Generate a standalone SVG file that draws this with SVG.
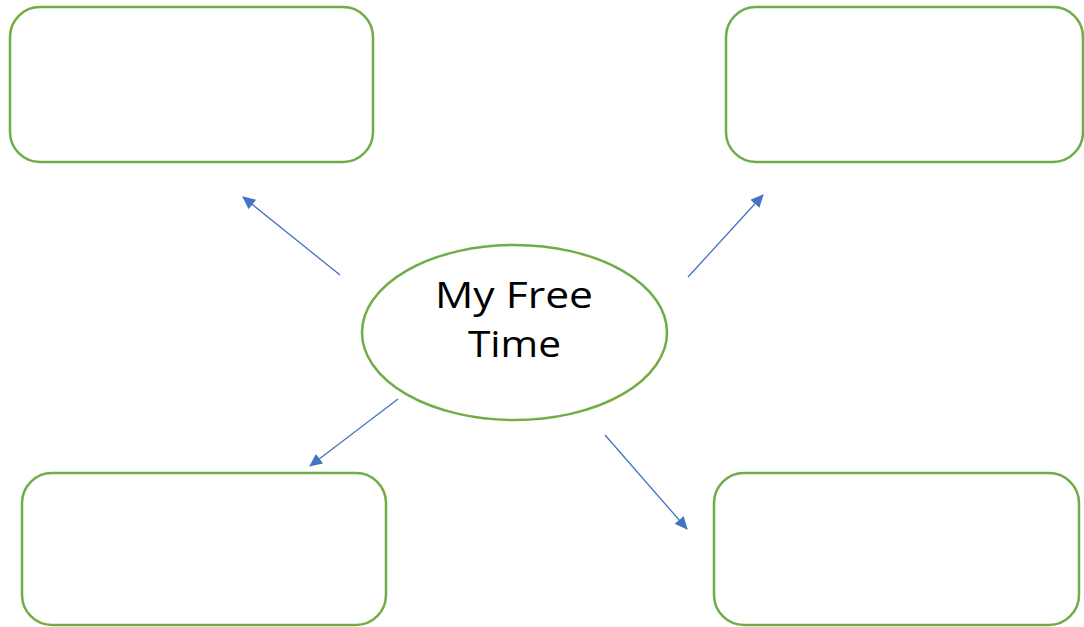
<svg xmlns="http://www.w3.org/2000/svg" width="1084" height="627" viewBox="0 0 1084 627">
<style>
.box{fill:#fff;stroke:#70AD47;stroke-width:2.5}
.conn{stroke:#4472C4;stroke-width:1.3;fill:none;marker-end:url(#arr)}
.lbl{font-family:"Open Sans","Liberation Sans",sans-serif;font-size:37px;fill:#000;text-anchor:middle}
</style>
<defs>
<marker id="arr" markerWidth="13" markerHeight="12" refX="12" refY="6" orient="auto" markerUnits="userSpaceOnUse" viewBox="0 0 13 12">
<path d="M0,0 L13,6 L0,12 Z" fill="#4472C4"/>
</marker>
</defs>
<rect width="1084" height="627" fill="#fff"/>
<g id="connectors">
<line class="conn" x1="340" y1="275" x2="243" y2="197"/>
<line class="conn" x1="688" y1="277" x2="763" y2="195"/>
<line class="conn" x1="398" y1="399" x2="310" y2="466"/>
<line class="conn" x1="605" y1="435" x2="687" y2="529"/>
</g>
<g id="box-top-left"><rect class="box" x="10" y="7" width="363" height="155" rx="30" ry="30"/></g>
<g id="box-top-right"><rect class="box" x="726" y="7" width="357" height="155" rx="30" ry="30"/></g>
<g id="box-bottom-left"><rect class="box" x="22" y="473" width="364" height="152" rx="30" ry="30"/></g>
<g id="box-bottom-right"><rect class="box" x="714" y="473" width="365" height="152" rx="30" ry="30"/></g>
<g id="center">
<ellipse class="box" cx="514.5" cy="332.5" rx="152.5" ry="87.5"/>
<text class="lbl" x="514" y="308" textLength="158" lengthAdjust="spacingAndGlyphs">My Free</text>
<text class="lbl" x="514.5" y="357" textLength="93" lengthAdjust="spacingAndGlyphs">Time</text>
</g>
</svg>
